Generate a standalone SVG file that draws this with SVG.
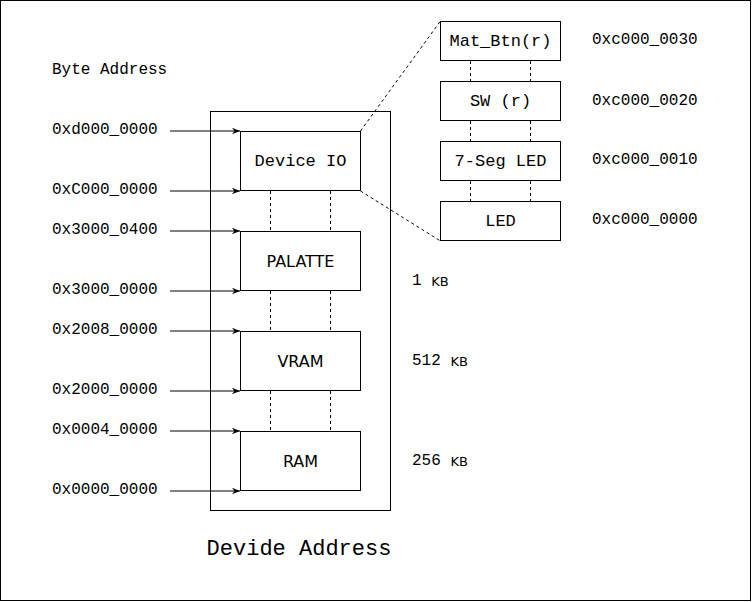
<svg xmlns="http://www.w3.org/2000/svg" width="752" height="602" viewBox="0 0 752 602">
<defs>
<marker id="arr" viewBox="0 0 10 10" refX="10" refY="5" markerWidth="8" markerHeight="8" markerUnits="userSpaceOnUse" orient="auto">
<path d="M0,1 L10,5 L0,9 L3,5 Z" fill="#000"/>
</marker>
</defs>
<style>
.box{fill:#fff;stroke:#000;stroke-width:1}
.mono{font-family:"Liberation Mono","DejaVu Sans Mono",monospace;font-size:16px;fill:#000}
.bl{font-size:17px}
.big{font-size:22px}
.sans{font-family:"DejaVu Sans","Liberation Sans",sans-serif;font-size:16px;fill:#000}
.kb{font-family:"DejaVu Sans","Liberation Sans",sans-serif;font-size:13px}
.c{text-anchor:middle;dominant-baseline:central}
.l{dominant-baseline:central}
.dash{stroke:#000;stroke-width:1;stroke-dasharray:3 3;fill:none}
.arrow{stroke:#000;stroke-width:1;fill:none;marker-end:url(#arr)}
</style>
<rect x="0.5" y="0.5" width="750" height="600" fill="#fff" stroke="#000"/>
<text class="mono l" x="52" y="70">Byte Address</text>
<g id="container"><rect class="box" x="210.5" y="111.5" width="180" height="399"/></g>
<g id="connectors">
<line class="arrow" x1="170" y1="131" x2="240" y2="131"/>
<line class="arrow" x1="170" y1="191" x2="240" y2="191"/>
<line class="arrow" x1="170" y1="231" x2="240" y2="231"/>
<line class="arrow" x1="170" y1="291" x2="240" y2="291"/>
<line class="arrow" x1="170" y1="331" x2="240" y2="331"/>
<line class="arrow" x1="170" y1="391" x2="240" y2="391"/>
<line class="arrow" x1="170" y1="431" x2="240" y2="431"/>
<line class="arrow" x1="170" y1="491" x2="240" y2="491"/>
<line class="dash" x1="270.5" y1="191" x2="270.5" y2="231"/>
<line class="dash" x1="330.5" y1="191" x2="330.5" y2="231"/>
<line class="dash" x1="270.5" y1="291" x2="270.5" y2="331"/>
<line class="dash" x1="330.5" y1="291" x2="330.5" y2="331"/>
<line class="dash" x1="270.5" y1="391" x2="270.5" y2="431"/>
<line class="dash" x1="330.5" y1="391" x2="330.5" y2="431"/>
<line class="dash" x1="470.5" y1="61" x2="470.5" y2="81"/>
<line class="dash" x1="530.5" y1="61" x2="530.5" y2="81"/>
<line class="dash" x1="470.5" y1="121" x2="470.5" y2="141"/>
<line class="dash" x1="530.5" y1="121" x2="530.5" y2="141"/>
<line class="dash" x1="470.5" y1="181" x2="470.5" y2="201"/>
<line class="dash" x1="530.5" y1="181" x2="530.5" y2="201"/>
<line class="dash" x1="360.5" y1="131" x2="440.5" y2="21"/>
<line class="dash" x1="360.5" y1="191" x2="440.5" y2="241"/>
</g>
<g id="device-io"><rect class="box" x="240.5" y="131.5" width="120" height="59"/><text class="mono bl c" x="300.5" y="161">Device IO</text></g>
<g id="palatte"><rect class="box" x="240.5" y="231.5" width="120" height="59"/><text class="sans c" x="300.5" y="261">PALATTE</text></g>
<g id="vram"><rect class="box" x="240.5" y="331.5" width="120" height="59"/><text class="sans c" x="300.5" y="361">VRAM</text></g>
<g id="ram"><rect class="box" x="240.5" y="431.5" width="120" height="59"/><text class="sans c" x="300.5" y="461">RAM</text></g>
<g id="mat-btn"><rect class="box" x="440.5" y="21.5" width="120" height="39"/><text class="mono bl c" x="500.5" y="41">Mat_Btn(r)</text></g>
<g id="sw"><rect class="box" x="440.5" y="81.5" width="120" height="39"/><text class="mono bl c" x="500.5" y="101">SW (r)</text></g>
<g id="seg"><rect class="box" x="440.5" y="141.5" width="120" height="39"/><text class="mono bl c" x="500.5" y="161">7-Seg LED</text></g>
<g id="led"><rect class="box" x="440.5" y="201.5" width="120" height="39"/><text class="mono bl c" x="500.5" y="221">LED</text></g>
<g id="labels">
<text class="mono l" x="52" y="130">0xd000_0000</text>
<text class="mono l" x="52" y="190">0xC000_0000</text>
<text class="mono l" x="52" y="230">0x3000_0400</text>
<text class="mono l" x="52" y="290">0x3000_0000</text>
<text class="mono l" x="52" y="330">0x2008_0000</text>
<text class="mono l" x="52" y="390">0x2000_0000</text>
<text class="mono l" x="52" y="430">0x0004_0000</text>
<text class="mono l" x="52" y="490">0x0000_0000</text>
<text class="mono l" x="592" y="40">0xc000_0030</text>
<text class="mono l" x="592" y="101">0xc000_0020</text>
<text class="mono l" x="592" y="160">0xc000_0010</text>
<text class="mono l" x="592" y="220">0xc000_0000</text>
<text class="mono l" x="412" y="281">1 <tspan class="kb">KB</tspan></text>
<text class="mono l" x="412" y="361">512 <tspan class="kb">KB</tspan></text>
<text class="mono l" x="412" y="461">256 <tspan class="kb">KB</tspan></text>
<text class="mono big c" x="299" y="549">Devide Address</text>
</g>
</svg>
